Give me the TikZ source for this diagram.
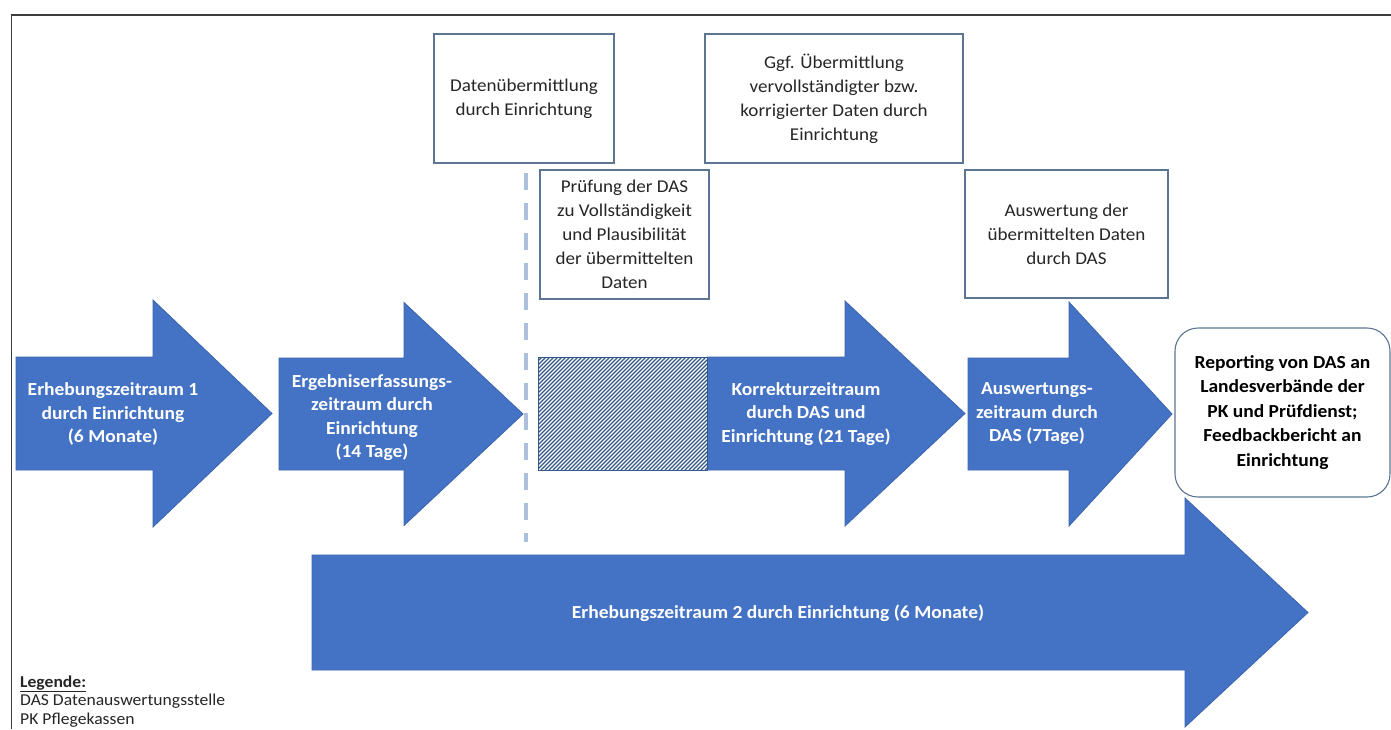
\documentclass[tikz,border=0pt]{standalone}
\usepackage{fontspec}
\setmainfont{Carlito}[FakeStretch=1.06]

\definecolor{arrowblue}{HTML}{4472C4}
\definecolor{arrowedge}{HTML}{3B64AE}
\definecolor{boxedge}{RGB}{92,117,146}
\definecolor{dashblue}{RGB}{172,192,222}
\definecolor{hatchblue}{RGB}{52,88,136}
\definecolor{framegray}{RGB}{60,60,60}
\definecolor{textdark}{RGB}{38,38,38}

% block arrow: left x, head base x, tip x, centre y, half body height, half head height
\newcommand{\stagearrow}[6]{%
  \path[stage] (#1,#4-#5) -- (#2,#4-#5) -- (#2,#4-#6) -- (#3,#4)
    -- (#2,#4+#6) -- (#2,#4+#5) -- (#1,#4+#5) -- cycle;}

\begin{document}
\begin{tikzpicture}[x=1pt,y=-1pt,
  stage/.style={fill=arrowblue, draw=arrowedge, line width=0.8pt, line join=miter},
  stagetext/.style={text=white, font=\fontsize{18.4}{23.5}\selectfont\bfseries,
    align=center, inner sep=0pt},
  infobox/.style={draw=boxedge, line width=1.1pt, fill=white, align=center,
    font=\fontsize{18}{24}\selectfont, inner sep=0pt, text=textdark},
  hatchline/.style={hatchblue, line width=1.15pt},
]
\useasboundingbox (0,0) rectangle (1391,729);
\fill[white] (0,0) rectangle (1391,729);

% outer frame (left and top edges)
\coordinate (fbl) at (11.5,729);
\coordinate (ftl) at (11.5,15);
\coordinate (ftr) at (1391,15);
\draw[framegray, line width=1.6pt] (fbl) -- (ftl) -- (ftr);

% information boxes above the time line
\node[infobox, minimum width=180pt, minimum height=129pt] (transfer) at (524,98.5)
  {Datenübermittlung\\durch Einrichtung};
\node[infobox, minimum width=258pt, minimum height=129pt] (resend) at (834,98.5)
  {Ggf. Übermittlung\\vervollständigter bzw.\\korrigierter Daten durch\\Einrichtung};
\node[infobox, minimum width=169pt, minimum height=129pt] (check) at (624.5,234.5)
  {Prüfung der DAS\\zu Vollständigkeit\\und Plausibilität\\der übermittelten\\Daten};
\node[infobox, minimum width=203pt, minimum height=128pt] (evalbox) at (1066.5,234)
  {Auswertung der\\übermittelten Daten\\durch DAS};

% dashed marker for the data transfer
\coordinate (dtop) at (526,173);
\coordinate (dbot) at (526,542);
\draw[dashblue, line width=4pt, dash pattern=on 17pt off 13pt] (dtop) -- (dbot);

% phase arrows
\stagearrow{16}{153}{272}{413.5}{56.5}{113.5}
\stagearrow{279}{404}{523}{414}{56}{111.5}
\stagearrow{707}{845}{965}{413.5}{56.5}{112.5}
\stagearrow{968}{1069}{1172}{414}{56}{112}
\stagearrow{312}{1185}{1308}{612.5}{57.5}{114.5}

% hatched check period in front of the correction arrow (rising diagonals)
\fill[white] (538,357) rectangle (707,470);
\begin{scope}
  \clip (538,357) rectangle (707,470);
  \foreach \k in {0,4,...,290}
    \draw[hatchline] (425+\k,470) -- ++(113,-113);
\end{scope}
\draw[hatchblue, line width=1pt] (538,357) rectangle (707,470);

% arrow labels
\node[stagetext] (phase1) at (113,414)
  {Erhebungszeitraum 1\\durch Einrichtung\\(6 Monate)};
\node[stagetext] (phase2) at (372,417.5)
  {Ergebniserfassungs-\\zeitraum durch\\Einrichtung\\(14 Tage)};
\node[stagetext] (phase3) at (806,414)
  {Korrekturzeitraum\\durch DAS und\\Einrichtung (21 Tage)};
\node[stagetext] (phase4) at (1037,414)
  {Auswertungs-\\zeitraum durch\\DAS (7Tage)};
\node[stagetext] (phase5) at (778,613)
  {Erhebungszeitraum 2 durch Einrichtung (6 Monate)};

% final reporting step
\node[infobox, rounded corners=23pt, minimum width=215pt, minimum height=169pt,
  font=\fontsize{18.4}{24.5}\selectfont\bfseries, text=black] (report) at (1282.5,412.5)
  {Reporting von DAS an\\Landesverbände der\\PK und Prüfdienst;\\Feedbackbericht an\\Einrichtung};

% legend
\node[anchor=west, align=left, inner sep=0pt, text=textdark,
  font=\fontsize{16.6}{18.5}\selectfont] (legend) at (20,701.5)
  {\underline{\textbf{Legende:}}\\DAS Datenauswertungsstelle\\PK Pflegekassen};
\end{tikzpicture}
\end{document}
